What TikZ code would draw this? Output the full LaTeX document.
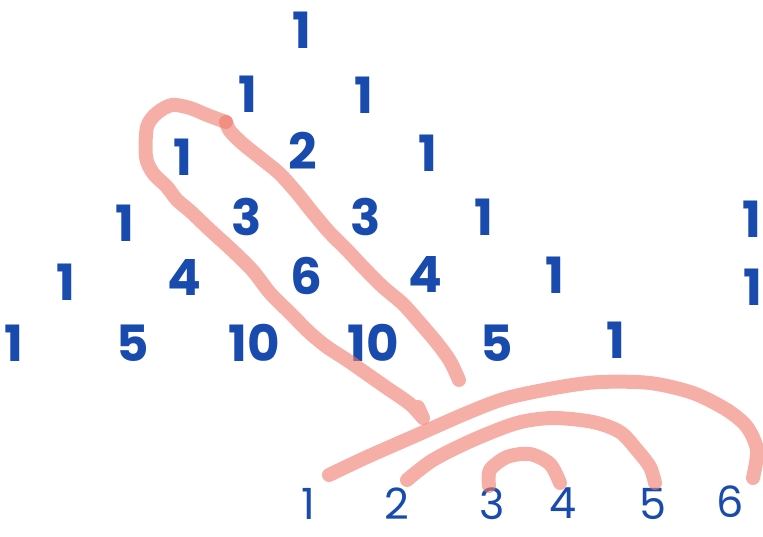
\documentclass[tikz,border=0pt]{standalone}
\usepackage{fontspec}
\setmainfont{Poppins}
\definecolor{inkblue}{HTML}{194BAF}
\definecolor{marker}{HTML}{F07A6A}
\begin{document}
\begin{tikzpicture}[
			x=1pt, y=-1pt,
			num node/.style={font=\fontsize{50}{50}\selectfont\bfseries, text=inkblue, inner sep=0pt},
			seq node/.style={font=\fontsize{43}{43}\selectfont, text=inkblue, inner sep=0pt},
			marker line/.style={draw=marker, line width=14pt, opacity=0.6, line cap=round, line join=round}
			]
			\useasboundingbox (0,0) rectangle (763,537);
			% triangle
			\node[num node] (r0a) at (302,30) {1};
			\node[num node] (r1a) at (248,94) {1};
			\node[num node] (r1b) at (364,95) {1};
			\node[num node] (r2a) at (183,157) {1};
			\node[num node] (r2b) at (303,151) {2};
			\node[num node] (r2c) at (428,153) {1};
			\node[num node] (r3a) at (125,223) {1};
			\node[num node] (r3b) at (247,217) {3};
			\node[num node] (r3c) at (366,217) {3};
			\node[num node] (r3d) at (484,217) {1};
			\node[num node] (r3e) at (752,219) {1};
			\node[num node] (r4a) at (66,282) {1};
			\node[num node] (r4b) at (184,278) {4};
			\node[num node] (r4c) at (306,276) {6};
			\node[num node] (r4d) at (425,275) {4};
			\node[num node] (r4e) at (555,275) {1};
			\node[num node] (r4f) at (753,287) {1};
			\node[num node] (r5a) at (14,343) {1};
			\node[num node] (r5b) at (133,343) {5};
			\node[num node] (r5c) at (254,343) {10};
			\node[num node] (r5d) at (373,343) {10};
			\node[num node] (r5e) at (497,343) {5};
			\node[num node] (r5f) at (616,340) {1};
			% sequence below
			\foreach \n/\x/\y in {1/308/504, 2/397/504, 3/492/504, 4/563/503, 5/653/504, 6/730/502}
				\node[seq node] (s\n) at (\x,\y) {\n};
			% diagonal loop
			\draw[marker line] plot[smooth, tension=0.5] coordinates {(226,122) (207,115) (190,108) (172,105) (157,113) (147,127) (146,157) (153,173) (167,187) (177,200) (190,211) (210,230) (233,251) (253,271) (270,293) (290,313) (310,333) (327,347) (347,360) (367,374) (387,388) (410,404) (423,418)} -- (418,407);
			\draw[marker line] plot[smooth, tension=0.5] coordinates {(226,122) (230,131) (243,144) (263,160) (280,174) (297,193) (313,213) (330,233) (347,250) (363,267) (383,287) (403,304) (420,323) (437,343) (450,361) (459,380)};
			% pairing arcs
			\draw[marker line] plot[smooth, tension=0.5] coordinates {(329,475) (367,457) (417,435) (467,413) (507,398) (560,387) (600,382) (650,383) (693,393) (727,410) (747,427) (757,450) (753,478)};
			\draw[marker line] plot[smooth, tension=0.5] coordinates {(407,480) (433,460) (473,440) (517,423) (553,418) (593,422) (620,432) (637,450) (650,467) (655,483)};
			\draw[marker line] plot[smooth, tension=0.5] coordinates {(489,486) (490,470) (507,457) (530,454) (550,464) (560,483)};
		\end{tikzpicture}
\end{document}
